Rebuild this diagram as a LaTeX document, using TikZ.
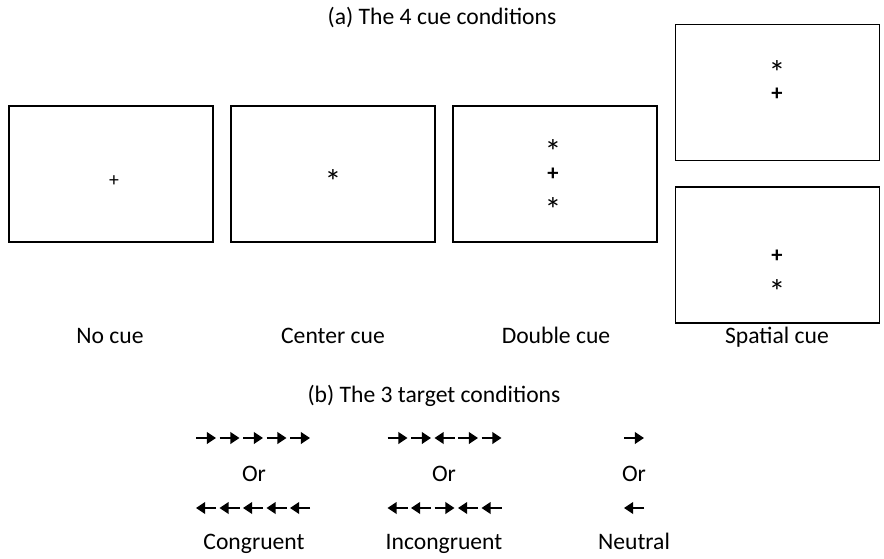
\documentclass[tikz,border=0pt]{standalone}
\usepackage{fontspec}
\setmainfont{Carlito}
\usetikzlibrary{arrows.meta,positioning}

\tikzset{
  screen/.style={draw, line width=0.8pt, minimum width=5.1cm, minimum height=3.4cm, inner sep=0pt},
  cross/.style={inner sep=0pt, anchor=base, font=\fontsize{16}{16}\selectfont\bfseries},
  star/.style={inner sep=0pt, anchor=base, font=\fontsize{24}{24}\selectfont},
  caption/.style={anchor=base},
  flank/.pic={\draw[line width=1.7pt, -{Triangle[length=0.23cm, width=0.29cm]}] (-10,0) -- (10,0);}
}

\begin{document}
\begin{tikzpicture}[x=0.025cm, y=-0.025cm, font=\fontsize{16.8}{19}\selectfont]
        \useasboundingbox (0,0) rectangle (884,559);
        \node[caption] (titlea) at (442,24) {(a) The 4 cue conditions};
        % the screens
        \node[screen] (nocue) at (111,174) {};
        \node[screen] (centercue) at (333,174) {};
        \node[screen] (doublecue) at (555,174) {};
        \node[screen] (spatialup) at (777.5,92.5) {};
        \node[screen] (spatialdown) at (777.5,255) {};
        % fixation crosses and cues
        \node[cross, font=\fontsize{14}{14}\selectfont] (fixa) at (114,186) {+};
        \node[star] (stara) at (333,193) {*};
        \node[star] (starb) at (553,163) {*};
        \node[cross] (fixb) at (553,180) {+};
        \node[star] (starc) at (553,221) {*};
        \node[star] (stard) at (777,85) {*};
        \node[cross] (fixc) at (777,100) {+};
        \node[cross] (fixd) at (777,262) {+};
        \node[star] (stare) at (777,303) {*};
        % labels
        \node[caption] (labela) at (110,343) {No cue};
        \node[caption] (labelb) at (333,343) {Center cue};
        \node[caption] (labelc) at (556,343) {Double cue};
        \node[caption] (labeld) at (777,343) {Spatial cue};
        \node[caption] (titleb) at (434,402) {(b) The 3 target conditions};
        % targets
        \foreach \d [count=\i] in {1,1,1,1,1}
                \pic[xscale=\d] at ({253+(\i-3)*23.5},438) {flank};
        \foreach \d [count=\i] in {-1,-1,-1,-1,-1}
                \pic[xscale=\d] at ({253+(\i-3)*23.5},508) {flank};
        \foreach \d [count=\i] in {1,1,-1,1,1}
                \pic[xscale=\d] at ({444.5+(\i-3)*23.5},438) {flank};
        \foreach \d [count=\i] in {-1,-1,1,-1,-1}
                \pic[xscale=\d] at ({444.5+(\i-3)*23.5},508) {flank};
        \pic at (634,438) {flank};
        \pic[xscale=-1] at (634,508) {flank};
        \node[caption] (ora) at (254,481) {Or};
        \node[caption] (orb) at (444,481) {Or};
        \node[caption] (orc) at (634,481) {Or};
        \node[caption] (congruent) at (254,549) {Congruent};
        \node[caption] (incongruent) at (444,549) {Incongruent};
        \node[caption] (neutral) at (634,549) {Neutral};
\end{tikzpicture}
\end{document}
